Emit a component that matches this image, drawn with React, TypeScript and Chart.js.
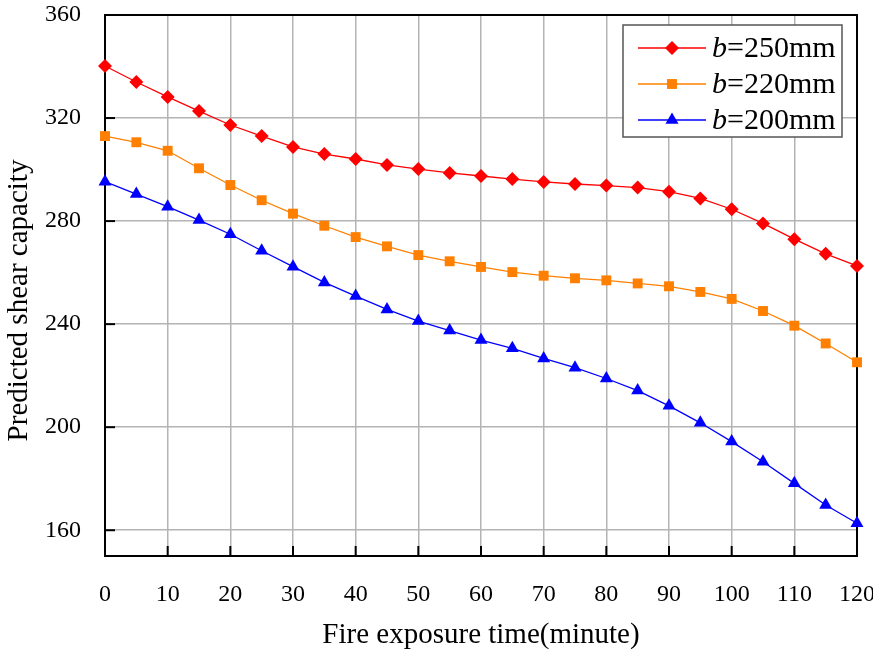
import React, { useEffect, useRef } from "react";
import { Chart, registerables } from "chart.js";

Chart.register(...registerables);

const times = [0, 5, 10, 15, 20, 25, 30, 35, 40, 45, 50, 55, 60, 65, 70, 75, 80, 85, 90, 95, 100, 105, 110, 115, 120];
const b250 = [340.2, 334, 328.2, 322.7, 317.3, 313, 308.8, 306, 304.1, 301.8, 300.2, 298.7, 297.5, 296.3, 295.2, 294.4, 293.8, 293, 291.4, 288.8, 284.6, 279.1, 273, 267.3, 262.6];
const b220 = [313, 310.6, 307.3, 300.5, 294, 288.1, 282.9, 278.2, 273.8, 270.2, 266.8, 264.4, 262.2, 260.2, 258.8, 257.8, 257, 255.8, 254.7, 252.5, 249.8, 245.1, 239.4, 232.5, 225.2];
const b200 = [295.3, 290.5, 285.6, 280.4, 274.9, 268.5, 262.3, 256.2, 250.9, 245.7, 241.2, 237.5, 233.8, 230.6, 226.7, 223.1, 218.9, 214.2, 208.3, 201.7, 194.4, 186.6, 178.2, 169.8, 162.7];
const seriesLabels = ["b=250mm", "b=220mm", "b=200mm"];
const yTicks = [160, 200, 240, 280, 320, 360];
const xTitle = "Fire exposure time(minute)";
const yTitle = "Predicted shear capacity";

const FONT = '"Liberation Serif", "Times New Roman", serif';

function drawMarker(ctx: CanvasRenderingContext2D, style: string, x: number, y: number, r: number) {
  ctx.beginPath();
  if (style === "rectRot") {
    ctx.moveTo(x - r, y);
    ctx.lineTo(x, y - r);
    ctx.lineTo(x + r, y);
    ctx.lineTo(x, y + r);
  } else if (style === "rect") {
    const s = r * Math.SQRT1_2;
    ctx.rect(x - s, y - s, 2 * s, 2 * s);
  } else {
    ctx.moveTo(x, y - r);
    ctx.lineTo(x + r * Math.sin((2 * Math.PI) / 3), y - r * Math.cos((2 * Math.PI) / 3));
    ctx.lineTo(x + r * Math.sin((4 * Math.PI) / 3), y - r * Math.cos((4 * Math.PI) / 3));
  }
  ctx.closePath();
  ctx.fill();
}

const framePlugin = {
  id: "frame",
  beforeDatasetsDraw(chart: any) {
    const { ctx, chartArea } = chart;
    const { left, right, top, bottom } = chartArea;
    ctx.save();
    ctx.strokeStyle = "#000";
    ctx.lineWidth = 2;
    ctx.strokeRect(left, top, right - left, bottom - top);
    const ys = chart.scales.y;
    yTicks.forEach((v) => {
      const py = ys.getPixelForValue(v);
      ctx.beginPath();
      ctx.moveTo(left, py);
      ctx.lineTo(left + 10, py);
      ctx.stroke();
    });
    const xs = chart.scales.x;
    for (let v = 10; v < 120; v += 10) {
      const px = xs.getPixelForValue(v);
      ctx.beginPath();
      ctx.moveTo(px, bottom);
      ctx.lineTo(px, bottom - 10);
      ctx.stroke();
    }
    // y-axis title
    ctx.save();
    ctx.translate(19, (top + bottom) / 2 + 15);
    ctx.rotate(-Math.PI / 2);
    ctx.fillStyle = "#000";
    ctx.font = `29px ${FONT}`;
    ctx.textAlign = "center";
    ctx.textBaseline = "middle";
    ctx.fillText(yTitle, 0, 0);
    ctx.restore();
    ctx.restore();
  },
};

const legendPlugin = {
  id: "customLegend",
  afterDraw(chart: any) {
    const { ctx, chartArea } = chart;
    const w = 219;
    const h = 112;
    const x0 = chartArea.right - 15 - w;
    const y0 = chartArea.top + 10;
    ctx.save();
    ctx.fillStyle = "#fff";
    ctx.fillRect(x0, y0, w, h);
    ctx.strokeStyle = "#555";
    ctx.lineWidth = 1.5;
    ctx.strokeRect(x0, y0, w, h);
    chart.data.datasets.forEach((ds: any, i: number) => {
      const cy = y0 + 23 + i * 36;
      ctx.strokeStyle = ds.borderColor;
      ctx.lineWidth = 1.3;
      ctx.beginPath();
      ctx.moveTo(x0 + 15, cy);
      ctx.lineTo(x0 + 83, cy);
      ctx.stroke();
      ctx.fillStyle = ds.pointBackgroundColor;
      drawMarker(ctx, ds.pointStyle, x0 + 49, cy, ds.pointRadius);
      const label: string = ds.label;
      ctx.fillStyle = "#000";
      ctx.textBaseline = "middle";
      ctx.textAlign = "left";
      ctx.font = `italic 30px ${FONT}`;
      const tx = x0 + 89;
      ctx.fillText(label.charAt(0), tx, cy + 1);
      const wb = ctx.measureText(label.charAt(0)).width;
      ctx.font = `30px ${FONT}`;
      ctx.fillText(label.slice(1), tx + wb, cy + 1);
    });
    ctx.restore();
  },
};

export default function App() {
  const ref = useRef<HTMLCanvasElement>(null);
  useEffect(() => {
    if (!ref.current) return;
    const mk = (vals: number[]) => times.map((t, i) => ({ x: t, y: vals[i] }));
    const chart = new Chart(ref.current, {
      type: "line",
      data: {
        datasets: [
          {
            label: seriesLabels[0],
            data: mk(b250),
            borderColor: "#ff0000",
            backgroundColor: "#ff0000",
            pointBackgroundColor: "#ff0000",
            pointBorderWidth: 0,
            pointStyle: "rectRot",
            pointRadius: 7,
            borderWidth: 1.3,
            clip: false,
          },
          {
            label: seriesLabels[1],
            data: mk(b220),
            borderColor: "#ff8000",
            backgroundColor: "#ff8000",
            pointBackgroundColor: "#ff8000",
            pointBorderWidth: 0,
            pointStyle: "rect",
            pointRadius: 7,
            borderWidth: 1.3,
            clip: false,
          },
          {
            label: seriesLabels[2],
            data: mk(b200),
            borderColor: "#0000ff",
            backgroundColor: "#0000ff",
            pointBackgroundColor: "#0000ff",
            pointBorderWidth: 0,
            pointStyle: "triangle",
            pointRadius: 7.5,
            borderWidth: 1.3,
            clip: false,
          },
        ] as any,
      },
      options: {
        responsive: false,
        animation: false,
        layout: { padding: { top: 15, right: 16, left: 0, bottom: 0 } },
        plugins: { legend: { display: false }, tooltip: { enabled: false } },
        scales: {
          x: {
            type: "linear",
            min: 0,
            max: 120,
            ticks: {
              stepSize: 10,
              padding: 24,
              color: "#000",
              font: { family: FONT, size: 24 },
              maxRotation: 0,
            },
            grid: { color: "#b4b4b4", lineWidth: 1.5, drawTicks: false },
            border: { display: false },
            title: {
              display: true,
              text: xTitle,
              color: "#000",
              font: { family: FONT, size: 29, lineHeight: 1.2 },
              padding: { top: 2, bottom: 0 },
            },
            afterFit: (s: any) => {
              s.height = 97;
              s.paddingLeft = 0;
              s.paddingRight = 0;
              s.paddingTop = 0;
              s.paddingBottom = 0;
            },
          },
          y: {
            type: "linear",
            min: 150,
            max: 360,
            afterBuildTicks: (s: any) => {
              s.ticks = yTicks.map((v) => ({ value: v }));
            },
            ticks: {
              padding: 24,
              color: "#000",
              font: { family: FONT, size: 24 },
            },
            grid: { color: "#b4b4b4", lineWidth: 1.5, drawTicks: false },
            border: { display: false },
            title: { display: false, text: yTitle },
            afterFit: (s: any) => {
              s.width = 105;
              s.paddingLeft = 0;
              s.paddingRight = 0;
              s.paddingTop = 0;
              s.paddingBottom = 0;
            },
          },
        },
      } as any,
      plugins: [framePlugin, legendPlugin],
    });
    return () => chart.destroy();
  }, []);
  return (
    <div style={{ position: "fixed", left: 0, top: 0, width: 873, height: 653, background: "#fff" }}>
      <canvas ref={ref} width={873} height={653} style={{ width: 873, height: 653 }} />
    </div>
  );
}
